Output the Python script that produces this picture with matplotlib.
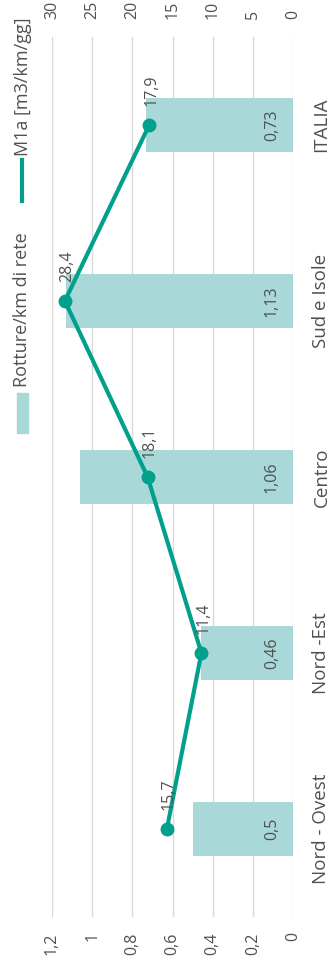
import matplotlib
matplotlib.use("Agg")
import matplotlib.pyplot as plt
from matplotlib.patches import Rectangle
from matplotlib.lines import Line2D

plt.rcParams['font.family'] = ['Open Sans', 'DejaVu Sans']

categories = ["Nord - Ovest", "Nord -Est", "Centro", "Sud e Isole", "ITALIA"]
rotture = [0.5, 0.46, 1.06, 1.13, 0.73]
m1a = [15.7, 11.4, 18.1, 28.4, 17.9]
left_ticks = [0, 0.2, 0.4, 0.6, 0.8, 1.0, 1.2]
left_labels = ["0", "0,2", "0,4", "0,6", "0,8", "1", "1,2"]
right_ticks = [0, 5, 10, 15, 20, 25, 30]
right_labels = ["0", "5", "10", "15", "20", "25", "30"]
bar_labels = ["0,5", "0,46", "1,06", "1,13", "0,73"]
line_labels = ["15,7", "11,4", "18,1", "28,4", "17,9"]

BAR = "#a8d8d8"
LINE = "#00a08c"
TXT = "#505050"
GRID = "#d9d9d9"
FS = 11.5

W, H = 329, 973
fig = plt.figure(figsize=(W / 100, H / 100), dpi=100)
fig.patch.set_facecolor("white")
ax = fig.add_axes([52 / W, 1 - 917 / H, (293 - 52) / W, (917 - 37) / H])
ax.set_facecolor("white")

ypos = list(range(len(categories)))
ax.barh(ypos, rotture, height=0.31, color=BAR, zorder=2)
ax.set_xlim(1.2, 0)
ax.set_ylim(-0.5, len(categories) - 0.5)
ax.set_xticks(left_ticks)
ax.set_xticklabels(left_labels, rotation=90, color=TXT, fontsize=11.5)
ax.tick_params(axis="x", length=0, pad=11)
ax.grid(axis="x", color=GRID, linewidth=1, zorder=0)
ax.yaxis.tick_right()
ax.set_yticks(ypos)
ax.set_yticklabels(categories, rotation=90, va="center", color=TXT, fontsize=13.5)
ax.tick_params(axis="y", length=0, pad=14)
for s in ax.spines.values():
    s.set_visible(False)

for y, v, lab in zip(ypos, rotture, bar_labels):
    ax.annotate(lab, (0, y), xytext=(-9.5, 0), textcoords="offset points",
                rotation=90, ha="right", va="center", color=TXT, fontsize=FS, zorder=4)

ax2 = ax.twiny()
ax2.set_xlim(30, 0)
ax2.set_xticks(right_ticks)
ax2.set_xticklabels(right_labels, rotation=90, color=TXT, fontsize=11.5)
ax2.tick_params(axis="x", length=0, pad=13)
for s in ax2.spines.values():
    s.set_visible(False)
ax2.plot(m1a, ypos, color=LINE, linewidth=3, marker="o", markersize=9, zorder=5)
for y, v, lab in zip(ypos, m1a, line_labels):
    ax2.annotate(lab, (v, y), xytext=(1.5, 14), textcoords="offset points",
                 rotation=90, ha="center", va="bottom", color=TXT, fontsize=FS, zorder=6)

# legend (rotated)
fig.patches.append(Rectangle((17 / W, 1 - 433 / H), 11 / W, 40 / H,
                             transform=fig.transFigure, color=BAR))
fig.text(22 / W, 1 - 387 / H, "Rotture/km di rete", rotation=90, ha="center",
         va="bottom", color=TXT, fontsize=13)
fig.lines.append(Line2D([22 / W, 22 / W], [1 - 201 / H, 1 - 160 / H],
                        transform=fig.transFigure, color=LINE, linewidth=3))
fig.text(23 / W, 1 - 156 / H, "M1a [m3/km/gg]", rotation=90, ha="center",
         va="bottom", color=TXT, fontsize=13)

fig.savefig("out.png", dpi=100, facecolor="white")
